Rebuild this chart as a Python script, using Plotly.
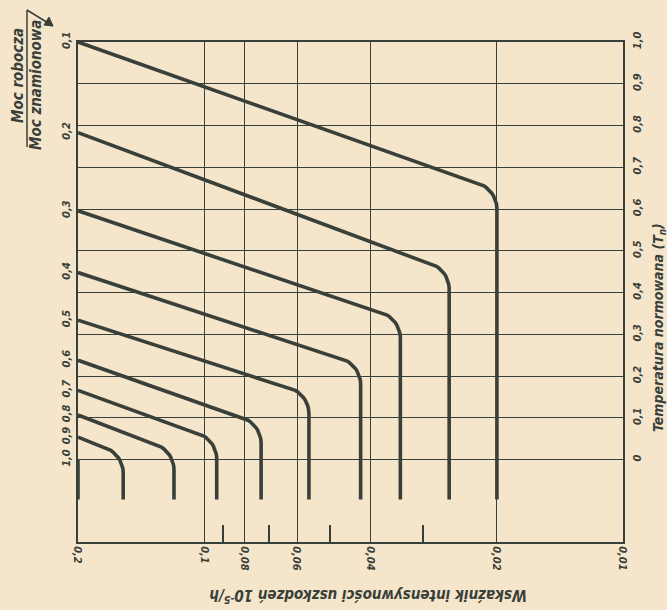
import math
import plotly.graph_objects as go

# ---------------- data ----------------
ratio_labels = ["0,1", "0,2", "0,3", "0,4", "0,5", "0,6", "0,7", "0,8", "0,9", "1,0"]
# normalised temperature at which each load-ratio line starts (left edge, rate 0.2)
start_T = [1.0, 0.783, 0.596, 0.448, 0.334, 0.238, 0.166, 0.107, 0.054, 0.0]
# failure rate (10^-5/h) of the vertical part of each curve
end_rate = [0.0200, 0.0260, 0.0340, 0.0423, 0.0562, 0.0731, 0.0933, 0.118, 0.156, 0.2]
# temperature at the knee (where the sloping part meets the vertical part)
knee_T = [0.646, 0.453, 0.337, 0.227, 0.157, 0.085, 0.047, 0.020, 0.012, 0.0]
curve_end_T = -0.095

temp_ticks = [0.0, 0.1, 0.2, 0.3, 0.4, 0.5, 0.6, 0.7, 0.8, 0.9, 1.0]
temp_labels = ["0", "0,1", "0,2", "0,3", "0,4", "0,5", "0,6", "0,7", "0,8", "0,9", "1,0"]

rate_ticks = [0.2, 0.1, 0.08, 0.06, 0.04, 0.02, 0.01]
rate_labels = ["0,2", "0,1", "0,08", "0,06", "0,04", "0,02", "0,01"]
rate_minor = [0.09, 0.07, 0.05, 0.03]

x_max, x_min = 0.2, 0.01
T_min, T_max = -0.197, 1.0

# ---------------- layout geometry / style ----------------
W, H = 667, 610
ML, MR, MT, MB = 78, 44, 42, 68
PW, PH = W - ML - MR, H - MT - MB
px_per_dec = PW / (math.log10(x_max) - math.log10(x_min))
px_per_T = PH / (T_max - T_min)

ink = "#394039"
paper = "#f5e5cb"
FONT = "DejaVu Sans Condensed, Liberation Sans Narrow, Roboto, DejaVu Sans"
FILLET = 27  # px, radius of the rounded knees (drawing style only)


def to_px(v, T):
    # screen-like coordinates: x to the right, y downward
    return (math.log10(x_max) - math.log10(v)) * px_per_dec, -T * px_per_T


def from_px(px, py):
    return 10 ** (math.log10(x_max) - px / px_per_dec), -py / px_per_T


def rounded_knee(p0, k, p_end, radius, steps=12):
    """Polyline p0 -> k -> p_end with the corner at k rounded (pixel space)."""
    u1 = (k[0] - p0[0], k[1] - p0[1])
    l1 = math.hypot(*u1)
    u1 = (u1[0] / l1, u1[1] / l1)
    u2 = (p_end[0] - k[0], p_end[1] - k[1])
    l2 = math.hypot(*u2)
    u2 = (u2[0] / l2, u2[1] / l2)
    theta = math.acos(max(-1.0, min(1.0, u1[0] * u2[0] + u1[1] * u2[1])))
    t = radius * math.tan(theta / 2)
    t = min(t, 0.5 * l1, 0.45 * l2)
    R = t / math.tan(theta / 2)
    a = (k[0] - t * u1[0], k[1] - t * u1[1])
    b = (k[0] + t * u2[0], k[1] + t * u2[1])
    nrm = (-u1[1], u1[0])
    o = (a[0] + R * nrm[0], a[1] + R * nrm[1])
    fa = math.atan2(a[1] - o[1], a[0] - o[0])
    fb = math.atan2(b[1] - o[1], b[0] - o[0])
    d = (fb - fa + math.pi) % (2 * math.pi) - math.pi
    pts = [p0]
    for i in range(steps + 1):
        f = fa + d * i / steps
        pts.append((o[0] + R * math.cos(f), o[1] + R * math.sin(f)))
    pts.append(p_end)
    return pts


fig = go.Figure()

for lab, t0, rate, tk in zip(ratio_labels, start_T, end_rate, knee_T):
    if rate >= x_max:
        xs, ys = [x_max, x_max], [t0, curve_end_T]
    else:
        pts = rounded_knee(to_px(x_max, t0), to_px(rate, tk),
                           to_px(rate, curve_end_T), FILLET)
        conv = [from_px(*p) for p in pts]
        xs = [c[0] for c in conv]
        ys = [c[1] for c in conv]
        xs[0], ys[0] = x_max, t0
        xs[-1], ys[-1] = rate, curve_end_T
    fig.add_trace(go.Scatter(
        x=xs, y=ys, mode="lines", name=lab,
        line=dict(color=ink, width=3.6),
        showlegend=False, hoverinfo="skip"))

# invisible trace to attach the right-hand temperature axis
fig.add_trace(go.Scatter(x=[x_max], y=[0], yaxis="y2", mode="markers",
                         marker=dict(opacity=0), showlegend=False, hoverinfo="skip"))

tickfont = dict(family=FONT, size=11, color=ink, style="italic", weight="bold")

fig.update_layout(
    width=W, height=H,
    margin=dict(l=ML, r=MR, t=MT, b=MB, autoexpand=False),
    paper_bgcolor=paper, plot_bgcolor=paper,
    xaxis=dict(
        type="log", range=[math.log10(x_max), math.log10(x_min)],
        tickmode="array", tickvals=rate_ticks, ticktext=rate_labels,
        tickangle=90, tickfont=tickfont, ticks="", automargin=False,
        showgrid=True, gridcolor=ink, gridwidth=1.3,
        showline=True, linecolor=ink, linewidth=2, mirror=True,
        zeroline=False,
        minor=dict(tickmode="array", tickvals=rate_minor, ticks="inside",
                   ticklen=17, tickwidth=1.5, tickcolor=ink, showgrid=False),
    ),
    yaxis=dict(
        range=[T_min, T_max], automargin=False,
        tickmode="array", tickvals=start_T, ticktext=ratio_labels,
        tickangle=-90, tickfont=tickfont, ticks="",
        showgrid=False, zeroline=False,
        showline=True, linecolor=ink, linewidth=2,
        ticklabelstandoff=2,
    ),
    yaxis2=dict(
        range=[T_min, T_max], overlaying="y", side="right", automargin=False,
        tickmode="array", tickvals=temp_ticks, ticktext=temp_labels,
        tickangle=-90, tickfont=tickfont, ticks="",
        showgrid=True, gridcolor=ink, gridwidth=1.3, zeroline=False,
        showline=True, linecolor=ink, linewidth=2,
        ticklabelstandoff=3,
    ),
)


def pxp(px, py):
    """page pixel -> paper coords"""
    return (px - ML) / PW, (H - MB - py) / PH


titlefont = dict(family=FONT, size=15, color=ink, style="italic", weight="bold")
centered = dict(xref="paper", yref="paper", showarrow=False,
                xanchor="center", yanchor="middle")

# bottom title (upside down, as in the print)
bx, by = pxp(368, 596)
fig.add_annotation(x=bx, y=by, text="Wskaźnik intensywności uszkodzeń 10<sup>-5</sup>/h",
                   textangle=180, font=titlefont, **centered)

# right title
rx, ry = pxp(659, 328)
fig.add_annotation(x=rx, y=ry, text="Temperatura normowana (T<sub>n</sub>)",
                   textangle=-90, font=dict(titlefont, size=14), **centered)

# left title as a fraction
lx1, ly1 = pxp(18, 76)
fig.add_annotation(x=lx1, y=ly1, text="Moc robocza", textangle=-90,
                   font=titlefont, **centered)
lx2, ly2 = pxp(36, 85)
fig.add_annotation(x=lx2, y=ly2, text="Moc znamionowa", textangle=-90,
                   font=titlefont, **centered)
fx, fy0 = pxp(27, 147)
_, fy1 = pxp(27, 10)
fig.add_shape(type="line", xref="paper", yref="paper", x0=fx, x1=fx, y0=fy0, y1=fy1,
              line=dict(color=ink, width=1.5))
# arrow from the top of the fraction bar towards the scale
hx, hy = pxp(53, 26)
tx, ty = pxp(27, 10)
fig.add_shape(type="line", xref="paper", yref="paper", x0=tx, y0=ty, x1=hx, y1=hy,
              line=dict(color=ink, width=1.5))
h1x, h1y = pxp(44, 25)
h2x, h2y = pxp(49, 17)
fig.add_shape(type="path", xref="paper", yref="paper",
              path=f"M {hx} {hy} L {h1x} {h1y} L {h2x} {h2y} Z",
              fillcolor=ink, line=dict(color=ink, width=1))

fig.write_html(
    "out.html",
    config={"displayModeBar": False},
    post_script=f"document.body.style.margin='0';document.body.style.background='{paper}';",
)
